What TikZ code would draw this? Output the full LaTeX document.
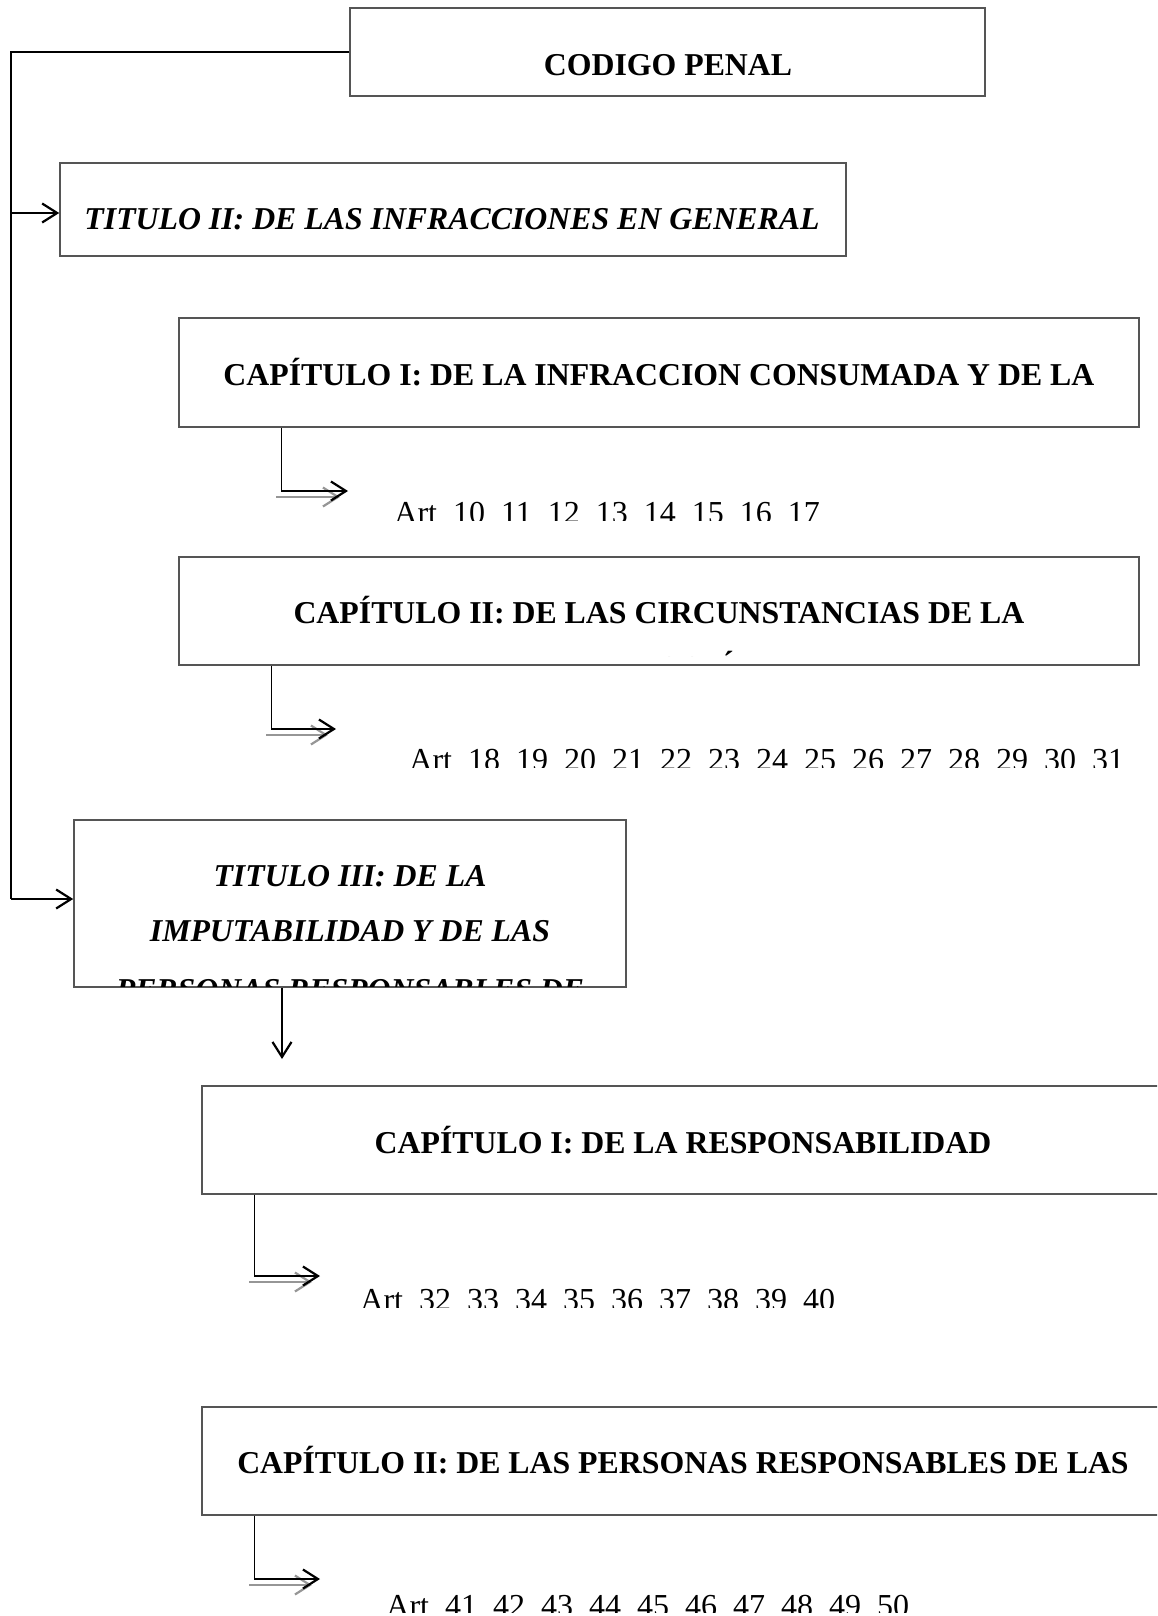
\documentclass[tikz,border=0pt]{standalone}
\usepackage{fontspec}
\setmainfont{Liberation Serif}
\usetikzlibrary{arrows.meta,fit}
\definecolor{boxgray}{RGB}{85,85,85}
\definecolor{shadowgray}{RGB}{150,150,150}
\newcommand\myartline[1]{\spaceskip=0.5em\relax #1}
\begin{document}
\begin{tikzpicture}[x=0.5pt,y=-0.5pt,
  boxst/.style={draw=boxgray, line width=0.8pt, inner sep=0pt},
  ttl/.style={font=\fontsize{15.9}{27.3}\selectfont\bfseries, anchor=base, inner sep=0pt},
  ittl/.style={font=\fontsize{15.9}{27.3}\selectfont\bfseries\itshape, anchor=base, inner sep=0pt},
  artst/.style={font=\fontsize{16}{19}\selectfont, anchor=base west, inner sep=0pt},
  conn/.style={black, line width=0.5pt},
  spine/.style={black, line width=0.7pt},
  arr/.style={-{Straight Barb[length=7.5pt,width=9.5pt,line width=1.1pt]}, line width=1.1pt, black},
  shadowarr/.style={-{Straight Barb[length=7.5pt,width=9.5pt,line width=1.1pt]}, line width=1.1pt, shadowgray},
]
\useasboundingbox (0,0) rectangle (1157,1616);
\clip (0,0) rectangle (1157,1616);

% boxes
\node[boxst, fit={(350,8) (985,96)}] (codigo) {};
\node[boxst, fit={(60,163) (846,256)}] (tit2) {};
\node[boxst, fit={(179,318) (1139,427)}] (cap1) {};
\node[boxst, fit={(179,557) (1139,665)}] (cap2) {};
\node[boxst, fit={(74,820) (626,987)}] (tit3) {};
\node[boxst, fit={(202,1086) (1175,1194)}] (cap3) {};
\node[boxst, fit={(202,1407) (1175,1515)}] (cap4) {};

% texts
\node[ttl] (tcodigo) at (668,75.5) {CODIGO PENAL};
\node[ittl] (ttit2) at (452,229.5) {TITULO II: DE LAS INFRACCIONES EN GENERAL};
\node[ttl] (tcap1) at (659,385.5) {CAPÍTULO I: DE LA INFRACCION CONSUMADA Y DE LA};
\node[ttl] (tcap2) at (659,623.5) {CAPÍTULO II: DE LAS CIRCUNSTANCIAS DE LA};
\begin{scope}
  \clip (180,558) rectangle (1138,656);
  \node[ttl] (tcap2b) at (659,678) {INFRACCIÓN};
\end{scope}
\node[ittl] (ttit3a) at (350,886.5) {TITULO III: DE LA};
\node[ittl] (ttit3b) at (350,941) {IMPUTABILIDAD Y DE LAS};
\begin{scope}
  \clip (75,821) rectangle (625,986);
  \node[ittl] (ttit3c) at (350,1000) {PERSONAS RESPONSABLES DE};
\end{scope}
\node[ttl] (tcap3) at (683,1153.5) {CAPÍTULO I: DE LA RESPONSABILIDAD};
\node[ttl] (tcap4) at (683,1473.5) {CAPÍTULO II: DE LAS PERSONAS RESPONSABLES DE LAS};

% article lists (bottom cut off as in the reference)
\begin{scope}
  \clip (380,480) rectangle (1150,520);
  \node[artst] (art1) at (394,523) {\myartline{Art 10 11 12 13 14 15 16 17}};
\end{scope}
\begin{scope}
  \clip (395,727) rectangle (1150,767);
  \node[artst] (art2) at (409,770) {\myartline{Art 18 19 20 21 22 23 24 25 26 27 28 29 30 31}};
\end{scope}
\begin{scope}
  \clip (345,1267) rectangle (1150,1307);
  \node[artst] (art3) at (360,1310) {\myartline{Art 32 33 34 35 36 37 38 39 40}};
\end{scope}
\begin{scope}
  \clip (375,1572) rectangle (1150,1612);
  \node[artst] (art4) at (386,1616) {\myartline{Art 41 42 43 44 45 46 47 48 49 50}};
\end{scope}

% main spine
\coordinate (sptop) at (11,52);
\coordinate (spt2) at (11,213);
\coordinate (spbot) at (11,899);
\draw[spine] (codigo.west) -- (sptop) -- (spbot);
\draw[arr] (spt2) -- (spt2 -| tit2.west);
\draw[arr] (spbot) -- (spbot -| tit3.west);

% down arrow from TITULO III
\coordinate (dn) at (282,1059);
\draw[arr] (dn |- tit3.south) -- (dn);

% sub connectors
\coordinate (c1) at (281,491);
\coordinate (c1e) at (348,491);
\draw[conn] (c1 |- cap1.south) -- (c1);
\draw[shadowarr] ([shift={(-5,6)}]c1) -- ([shift={(-8,6)}]c1e);
\draw[arr] (c1) -- (c1e);

\coordinate (c2) at (271,729);
\coordinate (c2e) at (336,729);
\draw[conn] (c2 |- cap2.south) -- (c2);
\draw[shadowarr] ([shift={(-5,6)}]c2) -- ([shift={(-8,6)}]c2e);
\draw[arr] (c2) -- (c2e);

\coordinate (c3) at (254,1276);
\coordinate (c3e) at (320,1276);
\draw[conn] (c3 |- cap3.south) -- (c3);
\draw[shadowarr] ([shift={(-5,6)}]c3) -- ([shift={(-8,6)}]c3e);
\draw[arr] (c3) -- (c3e);

\coordinate (c4) at (254,1579);
\coordinate (c4e) at (320,1579);
\draw[conn] (c4 |- cap4.south) -- (c4);
\draw[shadowarr] ([shift={(-5,6)}]c4) -- ([shift={(-8,6)}]c4e);
\draw[arr] (c4) -- (c4e);
\end{tikzpicture}
\end{document}
